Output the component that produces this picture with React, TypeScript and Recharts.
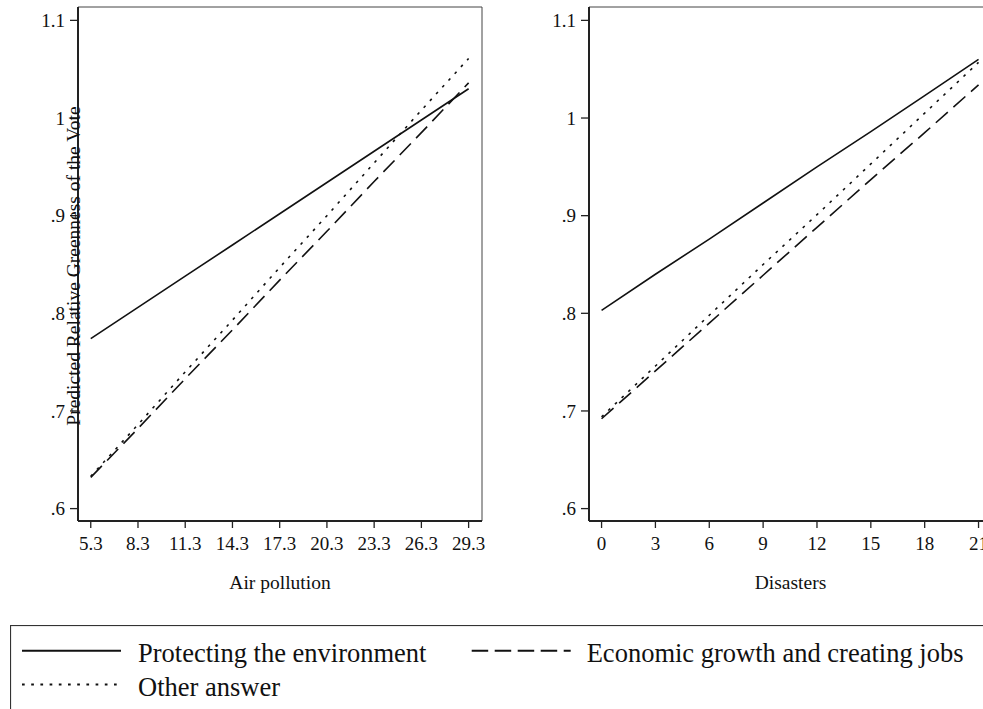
import type { ReactNode } from 'react';
import { Legend, Line, LineChart, ReferenceArea, XAxis, YAxis } from 'recharts';

// predicted values
const airPollution = [5.3, 8.3, 11.3, 14.3, 17.3, 20.3, 23.3, 26.3, 29.3];
const airProtect = [0.774, 0.806, 0.838, 0.870, 0.902, 0.934, 0.966, 0.998, 1.030];
const airEconomy = [0.632, 0.682, 0.733, 0.783, 0.834, 0.884, 0.935, 0.985, 1.036];
const airOther = [0.633, 0.686, 0.740, 0.793, 0.847, 0.900, 0.954, 1.008, 1.061];

const disasters = [0, 3, 6, 9, 12, 15, 18, 21];
const disProtect = [0.803, 0.840, 0.876, 0.913, 0.950, 0.986, 1.023, 1.060];
const disEconomy = [0.692, 0.741, 0.790, 0.839, 0.888, 0.937, 0.985, 1.034];
const disOther = [0.694, 0.746, 0.798, 0.850, 0.901, 0.953, 1.005, 1.057];

const yTicks = [0.6, 0.7, 0.8, 0.9, 1.0, 1.1];
const yTickLabels = ['.6', '.7', '.8', '.9', '1', '1.1'];

const seriesNames = [
  'Protecting the environment',
  'Economic growth and creating jobs',
  'Other answer',
];

const FONT = '"Liberation Serif", "Times New Roman", serif';
const INK = '#111';
const Y_DOMAIN: [number, number] = [0.5873, 1.1137];
const AIR_DOMAIN: [number, number] = [4.49, 30.15];
const DIS_DOMAIN: [number, number] = [-0.7, 21.75];

const DASH_PLOT = '16 7.5';
const DOT_PLOT = '2.7 6.5';

const airRows = airPollution.map((x, i) => ({
  x,
  protect: airProtect[i],
  economy: airEconomy[i],
  other: airOther[i],
}));

const disRows = disasters.map((x, i) => ({
  x,
  protect: disProtect[i],
  economy: disEconomy[i],
  other: disOther[i],
}));

function formatY(v: number): string {
  const i = yTicks.findIndex((t) => Math.abs(t - v) < 1e-6);
  return i >= 0 ? yTickLabels[i] : String(v);
}

function YTitle({ viewBox }: { viewBox?: { x: number; y: number; width: number; height: number } }): ReactNode {
  if (!viewBox) return null;
  const x = viewBox.x + viewBox.width + 1.5;
  const y = viewBox.y + viewBox.height / 2 + 2;
  return (
    <text
      x={x}
      y={y}
      transform={`rotate(-90 ${x} ${y})`}
      textAnchor="middle"
      fill={INK}
      fontSize={19.5}
      fontFamily={FONT}
    >
      Predicted Relative Greenness of the Vote
    </text>
  );
}

function LegendBox(): ReactNode {
  // two columns, second row holds the third entry
  const items = [
    { name: seriesNames[0], dash: undefined, lx: 12, tx: 128, ly: 25.7, ty: 37 },
    { name: seriesNames[1], dash: '16.5 6.5', lx: 461.7, tx: 576.7, ly: 25.7, ty: 37 },
    { name: seriesNames[2], dash: '2.7 6.5', lx: 12, tx: 128, ly: 59.5, ty: 70.5 },
  ];
  return (
    <svg width={1000} height={100} style={{ display: 'block' }}>
      <rect x={0.5} y={0.5} width={1100} height={200} fill="#fff" stroke="#333" strokeWidth={1.2} />
      {items.map((it) => (
        <g key={it.name}>
          <line
            x1={it.lx}
            x2={it.lx + 99}
            y1={it.ly}
            y2={it.ly}
            stroke={INK}
            strokeWidth={2}
            strokeDasharray={it.dash}
          />
          <text x={it.tx} y={it.ty} fill={INK} fontSize={26.5} fontFamily={FONT}>
            {it.name}
          </text>
        </g>
      ))}
    </svg>
  );
}

interface PanelProps {
  rows: { x: number; protect: number; economy: number; other: number }[];
  xTicks: number[];
  xDomain: [number, number];
  xTitle: string;
  xFormat: (v: number) => string;
  yWidth: number;
  width: number;
  withYTitle?: boolean;
  withLegend?: boolean;
}

function Panel({
  rows,
  xTicks,
  xDomain,
  xTitle,
  xFormat,
  yWidth,
  width,
  withYTitle,
  withLegend,
}: PanelProps): ReactNode {
  const tickStyle = { fill: INK, fontSize: 19, fontFamily: FONT };
  return (
    <LineChart width={width} height={600} data={rows} margin={{ top: 7, right: 8, bottom: 9, left: 0 }}>
      <ReferenceArea
        x1={xDomain[0]}
        x2={xDomain[1]}
        y1={Y_DOMAIN[0]}
        y2={Y_DOMAIN[1]}
        fill="none"
        stroke="#444"
        strokeWidth={1}
        ifOverflow="visible"
      />
      <XAxis
        type="number"
        dataKey="x"
        domain={xDomain}
        ticks={xTicks}
        interval={0}
        allowDataOverflow
        tickFormatter={xFormat}
        tick={tickStyle}
        tickSize={7}
        tickMargin={9}
        height={70}
        axisLine={{ stroke: '#222', strokeWidth: 2 }}
        tickLine={{ stroke: '#222', strokeWidth: 1.3 }}
        label={{ value: xTitle, position: 'insideBottom', offset: 2.5, fill: INK, fontSize: 19.5, fontFamily: FONT }}
      />
      <YAxis
        type="number"
        domain={Y_DOMAIN}
        ticks={yTicks}
        interval={0}
        allowDataOverflow
        tickFormatter={formatY}
        tick={tickStyle}
        tickSize={8}
        tickMargin={5}
        width={yWidth}
        axisLine={{ stroke: '#222', strokeWidth: 2 }}
        tickLine={{ stroke: '#222', strokeWidth: 1.3 }}
        label={withYTitle ? <YTitle /> : undefined}
      />
      <Line
        type="linear"
        dataKey="protect"
        name={seriesNames[0]}
        stroke={INK}
        strokeWidth={1.6}
        dot={false}
        isAnimationActive={false}
      />
      <Line
        type="linear"
        dataKey="economy"
        name={seriesNames[1]}
        stroke={INK}
        strokeWidth={1.6}
        strokeDasharray={DASH_PLOT}
        dot={false}
        isAnimationActive={false}
      />
      <Line
        type="linear"
        dataKey="other"
        name={seriesNames[2]}
        stroke={INK}
        strokeWidth={1.6}
        strokeDasharray={DOT_PLOT}
        dot={false}
        isAnimationActive={false}
      />
      {withLegend && (
        <Legend
          layout="horizontal"
          verticalAlign="middle"
          align="center"
          wrapperStyle={{ top: 625, left: 10, width: 1000, height: 100 }}
          content={<LegendBox />}
        />
      )}
    </LineChart>
  );
}

export default function App(): ReactNode {
  return (
    <div
      style={{
        position: 'absolute',
        left: 0,
        top: 0,
        width: 983,
        height: 709,
        overflow: 'hidden',
        background: '#fff',
      }}
    >
      <div style={{ position: 'absolute', left: 0, top: 0 }}>
        <Panel
          rows={airRows}
          xTicks={airPollution}
          xDomain={AIR_DOMAIN}
          xTitle="Air pollution"
          xFormat={(v) => v.toFixed(1)}
          yWidth={78}
          width={490}
          withYTitle
          withLegend
        />
      </div>
      <div style={{ position: 'absolute', left: 490, top: 0 }}>
        <Panel
          rows={disRows}
          xTicks={disasters}
          xDomain={DIS_DOMAIN}
          xTitle="Disasters"
          xFormat={(v) => String(v)}
          yWidth={99}
          width={510}
        />
      </div>
    </div>
  );
}
